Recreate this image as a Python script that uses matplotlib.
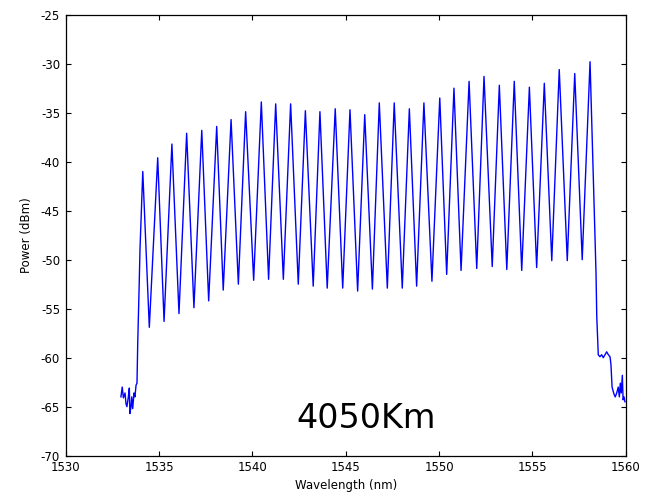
import numpy as np
import matplotlib
matplotlib.use("Agg")
import matplotlib.pyplot as plt

# Channel peaks (nm, dBm)
peak_wl = [1534.13, 1534.93, 1535.69, 1536.48, 1537.29, 1538.09, 1538.86, 1539.64,
           1540.48, 1541.25, 1542.05, 1542.84, 1543.62, 1544.44, 1545.23, 1546.02,
           1546.80, 1547.60, 1548.41, 1549.19, 1550.04, 1550.80, 1551.61, 1552.41,
           1553.23, 1554.03, 1554.84, 1555.64, 1556.44, 1557.27, 1558.09]
peak_dbm = [-41.0, -39.6, -38.2, -37.1, -36.8, -36.4, -35.7, -34.9,
            -33.9, -34.1, -34.1, -34.8, -34.9, -34.6, -34.7, -35.2,
            -34.0, -34.0, -34.6, -34.0, -33.5, -32.5, -31.8, -31.3,
            -32.2, -31.8, -32.4, -32.0, -30.6, -31.0, -29.8]

# Inter-channel minima (nm, dBm)
valley_wl = [1534.48, 1535.27, 1536.07, 1536.87, 1537.66, 1538.44, 1539.25, 1540.07,
             1540.87, 1541.66, 1542.46, 1543.26, 1544.01, 1544.84, 1545.64, 1546.43,
             1547.23, 1548.03, 1548.80, 1549.62, 1550.41, 1551.18, 1552.02, 1552.85,
             1553.63, 1554.43, 1555.23, 1556.04, 1556.87, 1557.67]
valley_dbm = [-56.9, -56.3, -55.5, -54.9, -54.2, -53.1, -52.5, -52.1,
              -52.0, -52.0, -52.5, -52.7, -52.9, -52.9, -53.2, -53.0,
              -52.9, -52.9, -52.7, -52.2, -51.5, -51.1, -50.9, -50.7,
              -51.0, -51.1, -50.8, -50.1, -50.1, -50.0]

# Noise floor and rising edge below the band
left_wl = [1532.96, 1533.03, 1533.09, 1533.18, 1533.23, 1533.28, 1533.35, 1533.41,
           1533.44, 1533.50, 1533.54, 1533.59, 1533.66, 1533.71, 1533.77, 1533.82,
           1533.86, 1533.89, 1533.94, 1533.98]
left_dbm = [-64.0, -63.0, -64.1, -63.6, -64.7, -65.0, -64.1, -63.1,
            -65.7, -65.0, -64.0, -65.2, -63.6, -64.0, -62.8, -62.6,
            -58.5, -56.2, -52.4, -49.0]

# Falling edge, shoulder and noise floor above the band
right_wl = [1558.36, 1558.41, 1558.45, 1558.50, 1558.53, 1558.62, 1558.71, 1558.80,
            1558.89, 1558.98, 1559.07, 1559.16, 1559.21, 1559.27, 1559.34, 1559.39,
            1559.44, 1559.52, 1559.60, 1559.66, 1559.71, 1559.76, 1559.82, 1559.86,
            1559.91, 1559.96]
right_dbm = [-48.0, -51.4, -55.8, -58.2, -59.7, -59.9, -59.7, -60.0,
             -59.7, -59.4, -59.7, -59.9, -60.7, -63.0, -63.5, -63.8,
             -64.0, -63.6, -63.0, -64.0, -62.6, -63.6, -61.8, -64.3,
             -64.0, -64.5]

x_ticks = [1530, 1535, 1540, 1545, 1550, 1555, 1560]
y_ticks = [-70, -65, -60, -55, -50, -45, -40, -35, -30, -25]
label_text = "4050Km"

# Assemble the trace in wavelength order
band_wl = np.empty(len(peak_wl) + len(valley_wl))
band_db = np.empty_like(band_wl)
band_wl[0::2] = peak_wl
band_wl[1::2] = valley_wl
band_db[0::2] = peak_dbm
band_db[1::2] = valley_dbm
wl = np.concatenate([left_wl, band_wl, right_wl])
db = np.concatenate([left_dbm, band_db, right_dbm])
order = np.argsort(wl, kind="stable")
wl, db = wl[order], db[order]

plt.rcParams["font.family"] = ["DejaVu Sans"]
plt.rcParams["axes.unicode_minus"] = False

fig = plt.figure(figsize=(6.49, 4.93), dpi=100)
ax = fig.add_axes([0.1012, 0.0757, 0.8629, 0.8945])
ax.plot(wl, db, color="#0000ff", linewidth=1.0)

ax.set_xlim(1530, 1560)
ax.set_ylim(-70, -25)
ax.set_xticks(x_ticks)
ax.set_yticks(y_ticks)
ax.tick_params(direction="in", length=3.6, width=0.8, labelsize=8.5,
               top=True, right=True, pad=4)
for s in ax.spines.values():
    s.set_linewidth(0.9)
    s.set_color("black")

ax.set_xlabel("Wavelength (nm)", fontsize=8.5)
ax.set_ylabel("Power (dBm)", fontsize=8.5)
ax.xaxis.set_label_coords(0.5, -0.053)
ax.yaxis.set_label_coords(-0.058, 0.5)

ax.text(1546.1, -67.15, label_text, fontsize=24, ha="center", va="baseline")

fig.savefig("out.png", dpi=100)
